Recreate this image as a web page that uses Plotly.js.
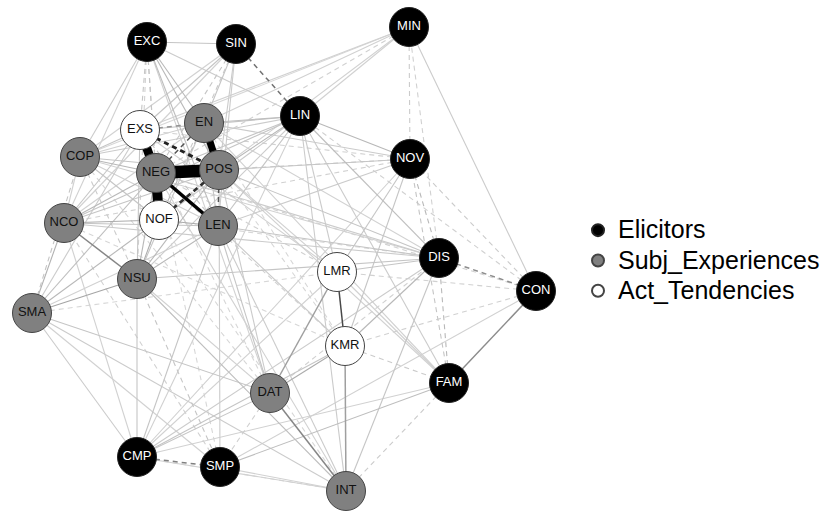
<!DOCTYPE html>
<html>
<head>
<meta charset="utf-8">
<script src="https://cdn.plot.ly/plotly-3.0.1.min.js"></script>
<style>html,body{margin:0;padding:0;background:#fff;}#chart{width:827px;height:511px;}</style>
</head>
<body>
<div id="chart"></div>
<script>
// ---- Node data (layout coordinates) ----
const elicitors = ["EXC","SIN","MIN","LIN","NOV","DIS","CON","FAM","CMP","SMP"];
const elicitorsX = [147,236,409,300,410,439,536,449,137,220];
const elicitorsY = [42,44,27,116,159,258,291,383,457,467];

const subjExperiences = ["EN","COP","NEG","POS","NCO","LEN","NSU","SMA","DAT","INT"];
const subjExperiencesX = [204,80,156,219,64,218,137,32,270,346];
const subjExperiencesY = [123,157,173,170,223,226,279,313,393,491];

const actTendencies = ["EXS","NOF","LMR","KMR"];
const actTendenciesX = [140,159,337,345];
const actTendenciesY = [130,220,272,346];

// ---- Edge data: [from, to, weight]  (negative = dashed) ----
const edgeFrom = [
"NEG","NEG","EXS","EN","NEG","EXS","NOF","NEG","POS","EXS",
"LMR","DAT","CON","DIS","SIN","CMP","NCO","NOF","NCO","COP",
"COP","COP","NCO","SMA","SMA","SMA","SMA","SMA","SMA","SMA",
"SMA","SMA","SMA","NSU","NSU","NSU","NSU","NSU","NSU","NSU",
"NSU","NSU","LMR","LMR","LMR","LMR","LMR","LMR","LMR","LMR",
"LMR","KMR","KMR","KMR","KMR","KMR","KMR","KMR","KMR","DAT",
"DAT","DAT","DAT","DAT","DAT","CMP","CMP","CMP","CMP","CMP",
"CMP","SMP","SMP","SMP","SMP","SMP","INT","INT","INT","INT",
"INT","INT","FAM","FAM","FAM","FAM","FAM","CON","CON","CON",
"CON","CON","CON","DIS","DIS","DIS","DIS","DIS","DIS","DIS",
"DIS","DIS","NOV","NOV","NOV","NOV","NOV","NOV","NOV","NOV",
"MIN","MIN","MIN","MIN","MIN","MIN","LIN","LIN","LIN","LIN",
"LIN","LIN","LIN","LIN","LIN","LIN","SIN","SIN","SIN","SIN",
"SIN","SIN","SIN","SIN","SIN","EXC","EXC","EXC","EXC","EXC",
"EXC","EXC","EXC","EXC","EXS","EXS","EXS","EXS","EN","EN",
"EN","EN","POS","POS","COP","COP","COP","NCO","SMP","DAT",
"EXS","NOF","COP","NCO","EN","POS","NOF","NEG","SMA","CMP"
];
const edgeTo = [
"POS","NOF","NEG","POS","LEN","POS","POS","EN","LEN","EN",
"KMR","INT","FAM","CON","LIN","SMP","NSU","LEN","NOF","NEG",
"EXS","NCO","NEG","NSU","NCO","NOF","NEG","EXS","COP","CMP",
"DAT","INT","LEN","NOF","NEG","POS","EN","LEN","CMP","SMP",
"INT","DIS","DAT","DIS","NOV","LIN","POS","NEG","EXS","CMP",
"FAM","DAT","INT","DIS","NOV","CMP","FAM","LEN","NEG","LEN",
"POS","EXC","NSU","CMP","DIS","LEN","NOV","DIS","FAM","LIN",
"NCO","FAM","POS","CON","NCO","INT","DIS","LIN","FAM","NEG",
"LEN","CMP","LIN","NOV","DIS","POS","EN","MIN","NOV","LIN",
"NEG","LMR","KMR","NOV","LIN","POS","LEN","NEG","EN","MIN",
"NCO","COP","LIN","POS","NEG","EXS","NCO","EN","MIN","LEN",
"LIN","EN","EXS","POS","NEG","COP","POS","EN","NEG","EXS",
"COP","NCO","NOF","LEN","EXC","NSU","EXC","EXS","EN","POS",
"NEG","NOF","COP","LEN","NCO","EXS","NEG","NOF","EN","POS",
"LEN","COP","NCO","NSU","NCO","NOF","NSU","LEN","NOF","COP",
"LEN","NCO","COP","NCO","NOF","NSU","LEN","LEN","SMA","SMP",
"DAT","DIS","DAT","KMR","KMR","KMR","INT","SMP","LMR","INT"
];
const edgeWeight = [
0.70,0.55,0.50,0.40,0.20,-0.16,-0.15,-0.12,-0.12,-0.07,
0.13,0.08,0.075,-0.075,-0.095,-0.085,0.08,0.05,0.05,0.04,
0.03,0.02,0.04,0.055,0.045,0.04,0.035,0.025,-0.03,0.025,
0.03,0.025,0.02,0.05,0.04,0.04,0.03,0.04,0.03,-0.03,
0.035,0.03,0.06,0.03,0.03,0.025,0.02,-0.02,0.02,0.02,
0.02,0.05,0.06,0.04,0.03,0.03,-0.025,0.025,-0.02,0.03,
0.025,0.02,0.02,0.03,-0.02,0.03,0.02,0.025,0.02,0.02,
0.02,0.035,0.025,0.02,-0.02,0.02,0.03,0.025,-0.025,0.02,
0.025,0.02,0.025,-0.03,-0.04,0.02,0.02,0.025,-0.025,-0.02,
-0.02,-0.02,-0.02,-0.04,0.035,0.03,0.03,0.025,0.02,-0.02,
0.025,0.02,0.04,0.03,-0.025,-0.02,-0.02,0.025,-0.025,0.025,
0.02,0.02,0.02,0.02,-0.02,0.015,0.04,0.035,0.03,0.03,
0.025,0.03,0.025,0.03,0.025,0.025,0.03,0.03,0.03,0.025,
-0.03,-0.025,0.02,0.025,0.02,-0.03,-0.03,-0.025,0.04,0.04,
0.035,0.025,0.02,-0.02,0.03,-0.03,0.03,-0.03,-0.04,0.02,
0.03,0.02,0.03,0.03,0.03,-0.025,0.02,0.03,0.02,-0.02,
-0.015,-0.015,-0.015,-0.015,-0.015,-0.015,-0.015,-0.015,-0.015,-0.015
];

// ---- Build lookup of node positions ----
const pos = {};
function addNodes(names, xs, ys){ names.forEach((n,i)=>{pos[n]=[xs[i],ys[i]];}); }
addNodes(elicitors, elicitorsX, elicitorsY);
addNodes(subjExperiences, subjExperiencesX, subjExperiencesY);
addNodes(actTendencies, actTendenciesX, actTendenciesY);

const FONT = "Liberation Sans, Arial, Helvetica, sans-serif";
const traces = [];

// edges, weakest first so strong ones are on top
const order = edgeWeight.map((w,i)=>i).sort((a,b)=>Math.abs(edgeWeight[a])-Math.abs(edgeWeight[b]));
order.forEach(i=>{
  const a = pos[edgeFrom[i]], b = pos[edgeTo[i]];
  if(!a||!b) return;
  const w = Math.abs(edgeWeight[i]);
  const g = Math.max(0, Math.round(234 - 1250*w));
  const width = w >= 0.15 ? 18*w : (w >= 0.06 ? 1.5 : 1.1);
  traces.push({
    type:'scatter', mode:'lines',
    x:[a[0],b[0]], y:[a[1],b[1]],
    line:{color:`rgb(${g},${g},${g})`, width:width, dash: edgeWeight[i] < 0 ? '5px,4px' : 'solid'},
    hoverinfo:'skip', showlegend:false
  });
});

function nodeTrace(name, labels, xs, ys, fill, border, textColor){
  return {
    type:'scatter', mode:'markers+text',
    name:'<span style="font-size:25px">'+name+'</span>',
    x:xs, y:ys, text:labels, textposition:'middle center',
    textfont:{family:FONT, size:13, color:textColor},
    marker:{size:39, color:fill, line:{color:border, width:1}},
    hoverinfo:'text', showlegend:true, legendgroup:name
  };
}
traces.push(nodeTrace('Elicitors', elicitors, elicitorsX, elicitorsY, '#000000', '#222222', '#ffffff'));
traces.push(nodeTrace('Subj_Experiences', subjExperiences, subjExperiencesX, subjExperiencesY, '#808080', '#444444', '#111111'));
traces.push(nodeTrace('Act_Tendencies', actTendencies, actTendenciesX, actTendenciesY, '#ffffff', '#444444', '#111111'));

const layout = {
  width:827, height:511,
  margin:{l:0,r:0,t:0,b:0},
  paper_bgcolor:'#ffffff', plot_bgcolor:'#ffffff',
  xaxis:{range:[0,827], visible:false, fixedrange:true},
  yaxis:{range:[511,0], visible:false, fixedrange:true},
  showlegend:true,
  legend:{x:578/827, y:1-210/511, xanchor:'left', yanchor:'top',
          font:{family:FONT, size:21, color:'#000'},
          itemsizing:'constant', traceorder:'normal', bgcolor:'rgba(0,0,0,0)',
          tracegroupgap:0},
  font:{family:FONT}
};

Plotly.newPlot('chart', traces, layout, {staticPlot:true, displayModeBar:false});
</script>
</body>
</html>
